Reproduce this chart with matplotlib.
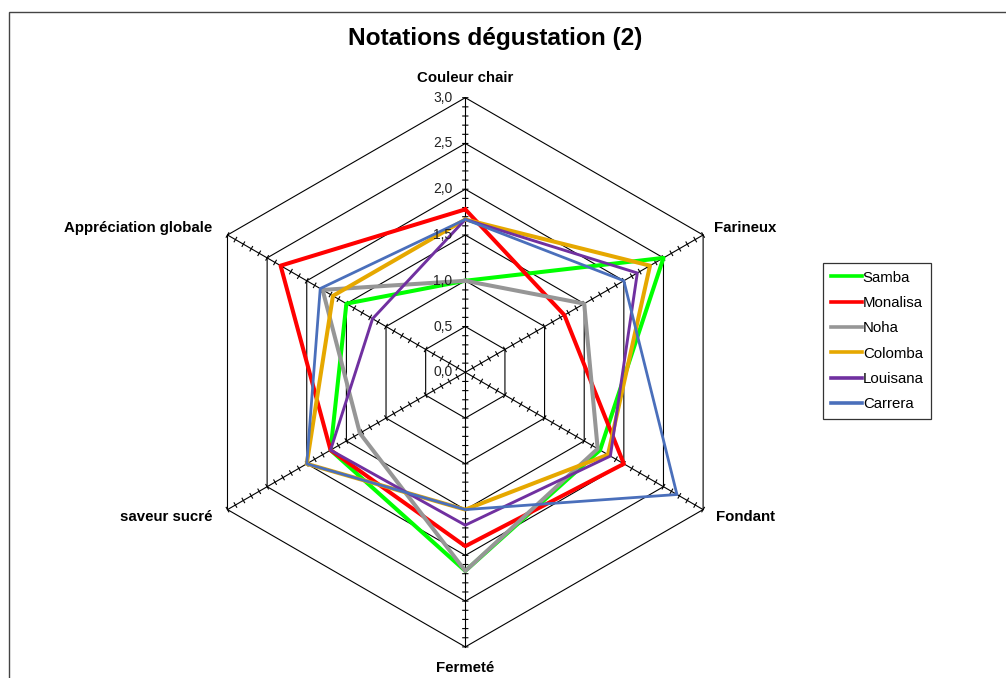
import numpy as np
import matplotlib
matplotlib.use('Agg')
import matplotlib.pyplot as plt
from matplotlib.patches import Rectangle

plt.rcParams['font.family'] = ['Liberation Sans', 'DejaVu Sans']

categories = ['Couleur chair', 'Farineux', 'Fondant', 'Fermeté',
              'saveur sucré', 'Appréciation globale']
samba = [1.0, 2.5, 1.7, 2.17, 1.7, 1.5]
monalisa = [1.78, 1.25, 2.0, 1.9, 1.7, 2.33]
noha = [1.0, 1.5, 1.67, 2.17, 1.33, 1.8]
colomba = [1.67, 2.33, 1.8, 1.5, 2.0, 1.67]
louisana = [1.67, 2.17, 1.83, 1.67, 1.7, 1.17]
carrera = [1.67, 2.0, 2.67, 1.5, 2.0, 1.83]
series_names = ['Samba', 'Monalisa', 'Noha', 'Colomba', 'Louisana', 'Carrera']
grid_values = [0.5, 1.0, 1.5, 2.0, 2.5, 3.0]
tick_labels = ['0,0', '0,5', '1,0', '1,5', '2,0', '2,5', '3,0']

series = [samba, monalisa, noha, colomba, louisana, carrera]
colors = ['#00FF00', '#FF0000', '#969696', '#E6A800', '#7030A0', '#4A6FBB']
widths = [2.9, 2.9, 2.9, 2.9, 2.1, 2.0]

W, H = 1006, 678
fig = plt.figure(figsize=(W / 100, H / 100), dpi=100)

# outer chart border (chart is cropped on right/bottom)
fig.patches.append(Rectangle((9 / W, -0.1), 1.2, 1.1 - 12 / H,
                             transform=fig.transFigure, fill=False,
                             edgecolor='#444444', lw=1.0))

cx, cy, rad = 465.3, 372.3, 274.6
ax = fig.add_axes([(cx - rad) / W, (H - cy - rad) / H, 2 * rad / W, 2 * rad / H],
                  projection='polar')
ax.set_theta_offset(np.pi / 2)
ax.set_theta_direction(-1)
ax.set_ylim(0, 3.0)
ax.grid(False)
ax.spines['polar'].set_visible(False)
ax.patch.set_visible(False)
ax.set_xticks([])
ax.set_yticks([])

n = len(categories)
theta = np.arange(n) * 2 * np.pi / n
theta_closed = np.append(theta, theta[0])

# hexagon grid
for g in grid_values:
    ax.plot(theta_closed, [g] * (n + 1), color='black', lw=0.8, clip_on=False, zorder=1)
# spokes
for t in theta:
    ax.plot([t, t], [0, 3.0], color='black', lw=0.8, clip_on=False, zorder=1)

# minor tick marks across each spoke
h = 0.028
rs = np.arange(1, 31) * 0.1
tt, rr = [], []
for t in theta:
    for r in rs:
        d = np.arctan(h / r)
        hr = np.hypot(r, h)
        tt += [t - d, t + d, np.nan]
        rr += [hr, hr, np.nan]
ax.plot(tt, rr, color='black', lw=0.8, clip_on=False, zorder=1)

# series
for name, vals, c, w in zip(series_names, series, colors, widths):
    ax.plot(theta_closed, vals + vals[:1], color=c, lw=w, label=name,
            clip_on=False, zorder=3)

# radial value labels
for i, lab in enumerate(tick_labels):
    ax.annotate(lab, xy=(0, i * 0.5), xytext=(-13, 0), textcoords='offset pixels',
                ha='right', va='center', fontsize=10, color='#222222')

# category labels
offsets = [((0, 20), 'center', 'center'),
           ((11, 7), 'left', 'center'),
           ((13, -7), 'left', 'center'),
           ((0, -21), 'center', 'center'),
           ((-15, -7), 'right', 'center'),
           ((-15, 7), 'right', 'center')]
for t, lab, (off, ha, va) in zip(theta, categories, offsets):
    ax.annotate(lab, xy=(t, 3.0), xytext=off, textcoords='offset pixels',
                ha=ha, va=va, fontsize=10.8, fontweight='bold')

fig.text(495 / W, 1 - 38 / H, 'Notations dégustation (2)', ha='center', va='center',
         fontsize=17.6, fontweight='bold')

leg = fig.legend(loc='upper left', bbox_to_anchor=(823 / W, 1 - 263 / H),
                 frameon=True, fancybox=False, fontsize=10.8, handlelength=2.1,
                 handletextpad=0.05, labelspacing=0.76, borderpad=0.5,
                 borderaxespad=0)
leg.get_frame().set_edgecolor('black')
leg.get_frame().set_linewidth(0.9)
for line in leg.get_lines():
    line.set_linewidth(2.6)

fig.savefig('out.png', dpi=100)
